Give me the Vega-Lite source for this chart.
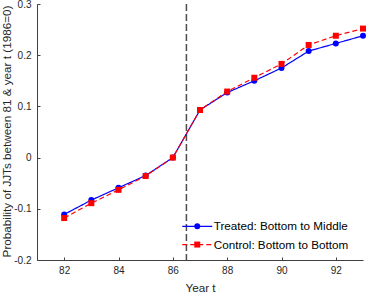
{
  "$schema": "https://vega.github.io/schema/vega-lite/v6.json",
  "width": 326,
  "height": 256,
  "autosize": {"type": "none"},
  "padding": {"left": 37, "top": 4, "right": 3, "bottom": 32},
  "config": {
    "view": {"stroke": null},
    "font": "Liberation Sans",
    "axis": {
      "grid": false,
      "domainColor": "#404040",
      "domainWidth": 1,
      "tickColor": "#404040",
      "tickSize": -3,
      "labelColor": "#262626",
      "labelFont": "Liberation Sans",
      "labelFontSize": 10,
      "titleColor": "#262626",
      "titleFont": "Liberation Sans",
      "titleFontSize": 11.7,
      "titleFontWeight": "normal"
    }
  },
  "data": {
    "values": [
      {"year": 82, "value": -0.111, "series": "Treated: Bottom to Middle"},
      {"year": 83, "value": -0.083, "series": "Treated: Bottom to Middle"},
      {"year": 84, "value": -0.059, "series": "Treated: Bottom to Middle"},
      {"year": 85, "value": -0.035, "series": "Treated: Bottom to Middle"},
      {"year": 86, "value": 0, "series": "Treated: Bottom to Middle"},
      {"year": 87, "value": 0.093, "series": "Treated: Bottom to Middle"},
      {"year": 88, "value": 0.127, "series": "Treated: Bottom to Middle"},
      {"year": 89, "value": 0.150, "series": "Treated: Bottom to Middle"},
      {"year": 90, "value": 0.175, "series": "Treated: Bottom to Middle"},
      {"year": 91, "value": 0.208, "series": "Treated: Bottom to Middle"},
      {"year": 92, "value": 0.223, "series": "Treated: Bottom to Middle"},
      {"year": 93, "value": 0.238, "series": "Treated: Bottom to Middle"},
      {"year": 82, "value": -0.118, "series": "Control: Bottom to Bottom"},
      {"year": 83, "value": -0.089, "series": "Control: Bottom to Bottom"},
      {"year": 84, "value": -0.063, "series": "Control: Bottom to Bottom"},
      {"year": 85, "value": -0.036, "series": "Control: Bottom to Bottom"},
      {"year": 86, "value": 0, "series": "Control: Bottom to Bottom"},
      {"year": 87, "value": 0.093, "series": "Control: Bottom to Bottom"},
      {"year": 88, "value": 0.129, "series": "Control: Bottom to Bottom"},
      {"year": 89, "value": 0.156, "series": "Control: Bottom to Bottom"},
      {"year": 90, "value": 0.183, "series": "Control: Bottom to Bottom"},
      {"year": 91, "value": 0.220, "series": "Control: Bottom to Bottom"},
      {"year": 92, "value": 0.238, "series": "Control: Bottom to Bottom"},
      {"year": 93, "value": 0.252, "series": "Control: Bottom to Bottom"}
    ]
  },
  "encoding": {
    "x": {
      "field": "year",
      "type": "quantitative",
      "title": "Year t",
      "scale": {"domain": [81, 93], "nice": false, "zero": false},
      "axis": {
        "values": [82, 84, 86, 88, 90, 92],
        "labelPadding": 8,
        "titleX": 163,
        "titleY": 31,
        "titleBaseline": "alphabetic",
        "titleAnchor": null
      }
    },
    "y": {
      "field": "value",
      "type": "quantitative",
      "title": "Probability of JJTs between 81 & year t (1986=0)",
      "scale": {"domain": [-0.2, 0.3], "nice": false, "zero": false},
      "axis": {
        "values": [-0.2, -0.1, 0, 0.1, 0.2, 0.3],
        "labelExpr": "datum.value == 0 ? '0' : (datum.value < 0 ? '-' : '') + format(abs(datum.value), '.1f')",
        "labelPadding": 9,
        "titleX": -31,
        "titleY": 127,
        "titleAngle": -90,
        "titleAlign": "center",
        "titleBaseline": "middle"
      }
    }
  },
  "layer": [
    {
      "data": {"values": [{"year": 86.5, "label": "Reform"}]},
      "mark": {"type": "rule", "color": "#4d4d4d", "strokeWidth": 1.5, "strokeDash": [7, 3]},
      "encoding": {"x": {"field": "year", "type": "quantitative"}, "y": null}
    },
    {
      "data": {"values": [{"year": 86.5, "label": "Reform"}]},
      "mark": {"type": "text", "align": "left", "baseline": "alphabetic", "dx": 4, "dy": 11, "fontSize": 11.7, "font": "Liberation Sans", "color": "#000000"},
      "encoding": {
        "x": {"field": "year", "type": "quantitative"},
        "y": {"datum": 0.3, "type": "quantitative"},
        "text": {"field": "label"}
      }
    },
    {
      "mark": {"type": "line", "strokeWidth": 1.2},
      "encoding": {
        "color": {
          "field": "series",
          "type": "nominal",
          "scale": {"domain": ["Treated: Bottom to Middle", "Control: Bottom to Bottom"], "range": ["#0000ff", "#ff0000"]},
          "legend": {
            "orient": "none", "legendX": 154.4, "legendY": 216.5, "title": null, "padding": 0,
            "symbolType": "M-5,0H5", "symbolSize": 36, "symbolStrokeWidth": 1.2,
            "labelFont": "Liberation Sans", "labelFontSize": 11.7, "labelColor": "#000000", "labelOffset": 10.6, "rowPadding": 5.2
          }
        },
        "strokeDash": {
          "field": "series",
          "type": "nominal",
          "scale": {"domain": ["Treated: Bottom to Middle", "Control: Bottom to Bottom"], "range": [[1, 0], [5, 3]]},
          "legend": {
            "orient": "none", "legendX": 154.4, "legendY": 216.5, "title": null, "padding": 0,
            "symbolType": "M-5,0H5", "symbolSize": 36, "symbolStrokeWidth": 1.2,
            "labelFont": "Liberation Sans", "labelFontSize": 11.7, "labelColor": "#000000", "labelOffset": 10.6, "rowPadding": 5.2
          }
        }
      }
    },
    {
      "mark": {"type": "point", "filled": true, "size": 36, "opacity": 1},
      "encoding": {
        "fill": {
          "field": "series",
          "type": "nominal",
          "sort": "descending",
          "scale": {"range": ["#0000ff", "#ff0000"]},
          "legend": {
            "orient": "none", "legendX": 154.4, "legendY": 216.5, "title": null, "padding": 0,
            "symbolSize": 36, "symbolStrokeWidth": 1.2, "symbolStrokeColor": "transparent", "symbolOpacity": 1,
            "labelFontSize": 11.7, "labelExpr": "''", "labelOffset": 10.6, "rowPadding": 5.2
          }
        },
        "shape": {
          "field": "series",
          "type": "nominal",
          "sort": "descending",
          "scale": {"range": ["circle", "square"]},
          "legend": {
            "orient": "none", "legendX": 154.4, "legendY": 216.5, "title": null, "padding": 0,
            "symbolSize": 36, "symbolStrokeWidth": 1.2, "symbolStrokeColor": "transparent", "symbolOpacity": 1,
            "labelFontSize": 11.7, "labelExpr": "''", "labelOffset": 10.6, "rowPadding": 5.2
          }
        }
      }
    }
  ]
}
